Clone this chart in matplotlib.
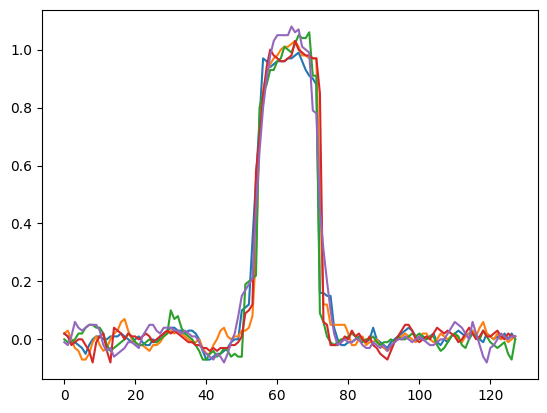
import numpy as np
import matplotlib
matplotlib.use('Agg')
import matplotlib.pyplot as plt

# five noisy square pulses
x = np.arange(128)

blue = [0.02, 0.01, 0.0, -0.01, -0.02, -0.03, -0.05, -0.02, 0.0, 0.01,
        0.01, 0.0, 0.0, 0.01, 0.01, 0.01, 0.02, 0.01, 0.0, -0.01,
        0.0, 0.01, -0.01, -0.02, -0.02, 0.0, -0.01, 0.01, 0.02, 0.03,
        0.04, 0.04, 0.03, 0.03, 0.02, 0.03, 0.03, 0.02, 0.0, -0.04,
        -0.07, -0.07, -0.06, -0.05, -0.05, -0.04, -0.03, -0.01, 0.0, 0.0,
        0.1, 0.11, 0.12, 0.34, 0.55, 0.76, 0.97, 0.96, 0.94, 0.95,
        0.96, 0.96, 0.96, 0.97, 0.97, 0.98, 0.99, 0.96, 0.93, 0.91,
        0.90, 0.88, 0.16, 0.16, 0.15, 0.15, 0.04, 0.0, -0.02, -0.02,
        -0.01, -0.01, 0.0, 0.01, 0.0, -0.01, 0.0, 0.04, 0.0, -0.01,
        -0.02, -0.03, -0.01, 0.0, 0.01, 0.02, 0.03, 0.04, 0.03, 0.01,
        0.0, 0.01, 0.0, 0.01, 0.02, -0.01, -0.02, 0.0, -0.01, 0.01,
        0.02, 0.03, 0.02, 0.01, 0.02, 0.03, 0.01, 0.0, -0.01, 0.02,
        0.01, 0.0, 0.01, 0.0, 0.02, 0.0, 0.02, 0.0]

orange = [0.02, 0.03, 0.0, -0.03, -0.04, -0.07, -0.07, -0.05, -0.01, 0.01,
          -0.02, -0.04, -0.03, 0.0, 0.02, 0.03, 0.06, 0.07, 0.03, 0.0,
          -0.01, -0.02, -0.02, -0.03, -0.04, -0.02, -0.02, -0.01, 0.01, 0.02,
          0.03, 0.02, 0.03, 0.02, 0.01, 0.0, -0.01, -0.01, 0.0, -0.03,
          -0.05, -0.05, -0.02, 0.0, 0.03, 0.04, 0.01, 0.0, 0.01, 0.01,
          0.03, 0.03, 0.04, 0.08, 0.3, 0.72, 0.86, 0.92, 0.95, 0.97,
          0.98, 1.0, 1.01, 1.01, 1.02, 1.03, 1.01, 0.98, 0.98, 0.97,
          0.97, 0.97, 0.5, 0.12, 0.12, 0.05, 0.05, 0.05, 0.05, 0.05,
          0.02, -0.02, -0.02, 0.0, 0.01, -0.02, -0.01, -0.01, 0.0, -0.02,
          -0.03, -0.04, -0.03, -0.01, 0.0, 0.01, 0.02, 0.01, 0.0, -0.01,
          0.01, 0.02, 0.02, 0.0, -0.01, 0.0, 0.02, 0.01, 0.0, 0.01,
          0.02, 0.0, -0.01, 0.01, 0.02, 0.03, 0.01, 0.04, 0.06, 0.02,
          0.01, 0.0, 0.02, 0.0, 0.01, -0.01, 0.0, 0.01]

green = [0.0, -0.01, -0.01, 0.0, 0.02, 0.02, 0.04, 0.05, 0.05, 0.04,
         0.04, 0.02, -0.02, -0.04, -0.03, -0.02, -0.01, 0.0, 0.02, 0.01,
         -0.01, -0.02, -0.02, -0.01, 0.0, -0.01, -0.01, 0.0, 0.01, 0.02,
         0.10, 0.07, 0.08, 0.04, 0.02, 0.01, 0.0, -0.02, -0.04, -0.07,
         -0.07, -0.05, -0.04, -0.06, -0.05, -0.03, -0.04, -0.06, -0.05, -0.06,
         -0.06, 0.19, 0.20, 0.21, 0.22, 0.80, 0.85, 0.88, 0.93, 0.93,
         0.96, 0.97, 1.01, 1.0, 0.99, 1.02, 1.05, 1.04, 1.04, 1.06,
         0.91, 0.91, 0.09, 0.06, 0.01, -0.01, -0.02, -0.01, 0.0, 0.0,
         0.01, 0.02, 0.01, 0.0, -0.01, 0.0, 0.0, 0.01, -0.01, -0.02,
         -0.01, -0.01, 0.0, -0.01, 0.01, 0.0, 0.0, 0.01, 0.02, 0.01,
         0.02, 0.01, 0.0, 0.01, 0.01, -0.02, -0.04, -0.03, -0.01, 0.01,
         0.02, 0.01, -0.02, -0.03, 0.0, 0.02, 0.01, 0.0, 0.03, 0.01,
         -0.01, -0.02, -0.03, -0.02, -0.01, -0.05, -0.07, 0.0]

red = [0.02, 0.01, -0.02, -0.01, 0.0, 0.0, -0.02, -0.04, -0.08, -0.01,
       0.01, 0.02, -0.04, -0.08, 0.04, 0.03, 0.02, 0.0, 0.02, 0.01,
       0.01, 0.0, 0.01, 0.02, 0.01, -0.01, 0.0, 0.01, 0.02, 0.03,
       0.02, 0.03, 0.02, 0.01, 0.0, -0.01, -0.01, -0.02, -0.02, -0.03,
       -0.03, -0.04, -0.03, -0.04, -0.03, -0.03, -0.03, -0.02, -0.02, -0.01,
       0.01, 0.09, 0.10, 0.12, 0.58, 0.70, 0.84, 0.94, 1.0, 0.98,
       0.97, 0.96, 0.96, 0.97, 0.98, 1.03, 1.0, 0.99, 0.98, 0.98,
       0.97, 0.97, 0.85, 0.06, 0.05, -0.02, -0.02, -0.02, -0.01, 0.01,
       0.0, 0.03, 0.01, 0.02, 0.0, -0.01, 0.01, -0.02, -0.03, -0.05,
       -0.06, -0.07, -0.04, -0.01, 0.01, 0.03, 0.05, 0.05, 0.03, 0.0,
       -0.01, 0.0, 0.01, 0.0, 0.02, 0.04, 0.03, 0.02, 0.03, 0.02,
       0.01, -0.01, 0.0, 0.02, 0.04, 0.02, 0.0, 0.01, 0.03, 0.01,
       0.01, 0.02, 0.03, 0.01, 0.0, 0.02, 0.01, 0.01]

purple = [-0.01, -0.02, 0.01, 0.06, 0.04, 0.03, 0.04, 0.05, 0.05, 0.05,
          0.03, -0.02, -0.04, -0.03, -0.06, -0.05, -0.04, -0.03, -0.01, -0.01,
          -0.02, -0.03, 0.01, 0.03, 0.05, 0.05, 0.03, 0.02, 0.04, 0.04,
          0.04, 0.03, 0.03, 0.02, 0.03, 0.02, 0.01, 0.01, -0.01, -0.04,
          -0.05, -0.06, -0.07, -0.05, -0.06, -0.08, -0.05, -0.01, 0.02, 0.08,
          0.15, 0.17, 0.19, 0.21, 0.45, 0.65, 0.80, 0.90, 0.98, 1.03,
          1.05, 1.05, 1.05, 1.05, 1.08, 1.06, 1.07, 1.01, 1.0, 0.99,
          0.79, 0.78, 0.45, 0.31, 0.20, 0.10, 0.02, -0.02, -0.01, 0.0,
          -0.01, -0.01, 0.0, 0.0, -0.02, -0.03, -0.03, -0.01, -0.02, -0.03,
          -0.02, -0.04, -0.02, -0.01, 0.0, 0.0, 0.01, 0.0, -0.01, 0.0,
          0.01, 0.0, -0.01, -0.02, -0.02, -0.01, 0.0, 0.0, 0.02, 0.04,
          0.06, 0.05, 0.04, 0.02, 0.0, 0.06, 0.02, -0.02, -0.06, -0.08,
          -0.03, -0.02, 0.0, 0.02, 0.01, 0.0, 0.01, 0.01]

fig, ax = plt.subplots(figsize=(6.4, 4.8))

for series in [blue, orange, green, red, purple]:
    ax.plot(x, series)

fig.savefig('out.png', dpi=100, bbox_inches='tight')
